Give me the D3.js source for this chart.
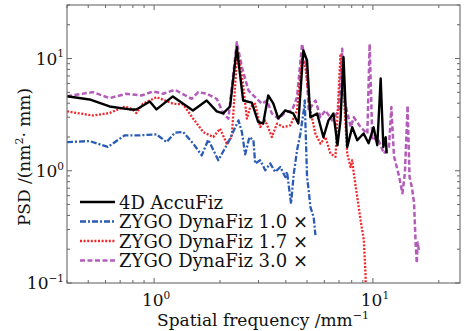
<!DOCTYPE html>
<html><head><meta charset="utf-8">
<script src="https://cdn.jsdelivr.net/npm/d3@7"></script>
<style>
body{margin:0;background:#fff}
svg{display:block}
text{font-family:"DejaVu Serif","Liberation Serif",serif;fill:#111}
</style>
</head><body>
<svg id="c" width="468" height="331"></svg>
<script>
// ---- data ----
const seriesNames = ["4D AccuFiz", "ZYGO DynaFiz 1.0 \u00d7", "ZYGO DynaFiz 1.7 \u00d7", "ZYGO DynaFiz 3.0 \u00d7"];

const accuFreq = [0.40,0.507,0.626,0.774,0.83,0.956,1.026,1.218,1.505,1.739,1.933,2.066,2.225,2.388,2.552,2.798,2.99,3.153,3.323,3.504,3.694,3.977,4.327,4.562,4.809,5.0,5.178,5.559,5.941,6.263,6.602,6.888,7.11,7.339,7.631,8.044,8.48,9.065,9.557,10.07,10.47,10.85,11.16,11.44,11.56];
const accuPsd  = [4.62,4.32,3.74,3.52,3.52,4.15,3.52,4.60,3.45,4.23,3.38,3.24,3.74,12.6,4.23,4.05,2.72,2.64,4.69,3.98,2.93,3.45,3.24,2.64,11.8,9.6,2.99,3.24,1.99,2.81,3.24,1.69,2.81,10.3,1.63,2.45,1.87,2.15,1.76,2.44,1.69,6.64,1.63,1.99,1.43];

const z10Freq = [0.40,0.507,0.615,0.7345,0.86,1.026,1.14,1.245,1.358,1.51,1.65,1.769,1.966,2.185,2.43,2.52,2.607,2.728,2.845,2.897,3.054,3.22,3.395,3.578,3.773,3.977,4.05,4.225,4.35,4.50,4.66,4.83,4.88,5.0,5.087,5.178,5.36,5.46];
const z10Psd  = [1.80,1.84,1.63,2.07,2.07,2.11,1.80,2.19,2.21,1.745,1.37,1.89,1.24,1.80,2.81,2.21,1.40,2.0,1.87,1.16,1.24,1.01,1.16,0.976,1.08,0.88,0.976,0.51,0.944,1.52,2.14,3.45,4.23,0.88,0.671,0.477,0.388,0.267];

const z17Freq = [0.40,0.525,0.626,0.7345,0.788,0.83,0.89,1.026,1.222,1.358,1.51,1.678,1.865,2.001,2.148,2.265,2.40,2.472,2.56,2.654,2.75,2.897,3.054,3.22,3.455,3.644,3.906,4.193,4.50,4.745,4.913,5.178,5.46,5.757,6.067,6.396,6.745,7.11,7.36,7.63,7.90,8.04,8.18,8.48,8.78,9.09,9.26,9.3];
const z17Psd  = [3.38,3.11,3.27,3.74,3.57,3.27,3.96,4.53,3.96,3.90,2.91,2.21,2.0,2.37,1.745,2.0,11.5,8.97,5.56,2.91,3.69,3.96,2.45,2.81,2.0,2.63,2.45,2.54,3.45,10.27,8.37,3.45,2.14,1.745,2.0,1.42,1.33,11.0,4.86,1.42,1.08,1.24,0.944,0.585,0.363,0.241,0.114,0.05];

const z30Freq = [0.40,0.525,0.626,0.747,0.876,0.989,1.10,1.245,1.485,1.591,1.739,1.865,1.933,2.073,2.185,2.388,2.52,2.70,2.897,3.11,3.28,3.455,3.706,3.977,4.27,4.50,4.745,4.965,5.087,5.46,5.757,6.067,6.51,6.98,7.24,7.41,7.92,8.18,8.78,9.43,9.66,9.94,10.47,11.23,11.84,12.14,12.48,13.16,13.64,14.0,14.4,14.7,15.1,15.42,15.7,15.87,16.0,16.26];
const z30Psd  = [4.62,5.02,4.44,4.86,4.69,5.09,4.86,5.27,4.38,5.02,4.86,4.53,4.38,3.23,2.91,13.96,8.37,5.19,4.53,3.96,4.23,3.23,2.91,3.33,3.45,4.53,13.5,8.37,3.45,4.23,3.0,3.45,2.81,3.45,12.2,4.23,2.45,3.0,2.45,2.14,13.5,1.87,2.0,1.42,1.63,3.7,1.35,0.9,0.63,0.95,3.8,0.88,0.7,0.51,0.21,0.15,0.23,0.19];

const xMajor = [1, 10];
const xMinor = [0.4,0.5,0.6,0.7,0.8,0.9,2,3,4,5,6,7,8,9,20];
const yMajor = [0.1, 1, 10];
const yMinor = [0.2,0.3,0.4,0.5,0.6,0.7,0.8,0.9,2,3,4,5,6,7,8,9,20,30];
const xTickLabels = [["10","0"],["10","1"]];
const yTickLabels = [["10","\u22121"],["10","0"],["10","1"]];

// ---- drawing ----
const L=67, R=460, T=5, B=283;
const svg = d3.select("#c");
const x = d3.scaleLog().domain([0.4,25]).range([L,R]);
const y = d3.scaleLog().domain([0.1,30]).range([B,T]);

svg.append("clipPath").attr("id","clip").append("rect")
  .attr("x",L).attr("y",T).attr("width",R-L).attr("height",B-T);

const series = [
  {f:z30Freq, v:z30Psd, color:"#b35cba", w:2.5, dash:"5,2.5"},
  {f:z17Freq, v:z17Psd, color:"#f2262b", w:2.3, dash:"2,1.6"},
  {f:z10Freq, v:z10Psd, color:"#2a5bb5", w:2.3, dash:"6,2,2,2"},
  {f:accuFreq, v:accuPsd, color:"#000000", w:2.4, dash:null}
];
const line = d3.line().x(d=>x(d[0])).y(d=>y(d[1]));
const g = svg.append("g").attr("clip-path","url(#clip)");
series.forEach(s=>{
  const pts = s.f.map((f,i)=>[f, s.v[i]]);
  g.append("path").datum(pts).attr("d",line)
    .attr("fill","none").attr("stroke",s.color).attr("stroke-width",s.w)
    .attr("stroke-linejoin","round")
    .attr("stroke-dasharray",s.dash);
});

// frame
svg.append("rect").attr("x",L).attr("y",T).attr("width",R-L).attr("height",B-T)
  .attr("fill","none").attr("stroke","#777").attr("stroke-width",1.2);

// ticks (inward on all four sides)
const tk = svg.append("g").attr("stroke","#666").attr("stroke-width",1);
function xt(v,len){
  tk.append("line").attr("x1",x(v)).attr("x2",x(v)).attr("y1",B).attr("y2",B-len);
  tk.append("line").attr("x1",x(v)).attr("x2",x(v)).attr("y1",T).attr("y2",T+len);
}
function yt(v,len){
  tk.append("line").attr("y1",y(v)).attr("y2",y(v)).attr("x1",L).attr("x2",L+len);
  tk.append("line").attr("y1",y(v)).attr("y2",y(v)).attr("x1",R).attr("x2",R-len);
}
xMajor.forEach(v=>xt(v,5)); xMinor.forEach(v=>xt(v,3));
yMajor.forEach(v=>yt(v,5)); yMinor.forEach(v=>yt(v,3));

function powText(parent, xpos, ypos, base, exp, anchor, size){
  const t = parent.append("text").attr("x",xpos).attr("y",ypos)
    .attr("text-anchor",anchor).style("font-size",size+"px");
  t.append("tspan").text(base);
  t.append("tspan").attr("dy",-size*0.42).style("font-size",(size*0.62)+"px").text(exp);
  return t;
}
xMajor.forEach((v,i)=>powText(svg, x(v)+2, 306, xTickLabels[i][0], xTickLabels[i][1], "middle", 17));
yMajor.forEach((v,i)=>powText(svg, 64, y(v)+6, yTickLabels[i][0], yTickLabels[i][1], "end", 17));

// axis titles
const xt2 = svg.append("text").attr("x",263).attr("y",326).attr("text-anchor","middle").style("font-size","17px");
xt2.append("tspan").text("Spatial frequency /mm");
xt2.append("tspan").attr("dy",-7).style("font-size","11px").text("\u22121");

const yl = svg.append("text").attr("transform","translate(30,157) rotate(-90)")
  .attr("text-anchor","middle").style("font-size","17px");
yl.append("tspan").text("PSD /(nm");
yl.append("tspan").attr("dy",-7).style("font-size","11px").text("2");
yl.append("tspan").attr("dy",7).text("\u00b7 mm)");

// legend
const legOrder = [3,2,1,0];
const lg = svg.append("g");
legOrder.forEach((si,i)=>{
  const s = series[si];
  const yy = 202 + i*19.5;
  lg.append("line").attr("x1",80).attr("x2",115).attr("y1",yy).attr("y2",yy)
    .attr("stroke",s.color).attr("stroke-width",s.w).attr("stroke-dasharray",s.dash);
  lg.append("text").attr("x",119).attr("y",yy+6.5).style("font-size","18px").text(seriesNames[i]);
});
</script>
</body></html>
